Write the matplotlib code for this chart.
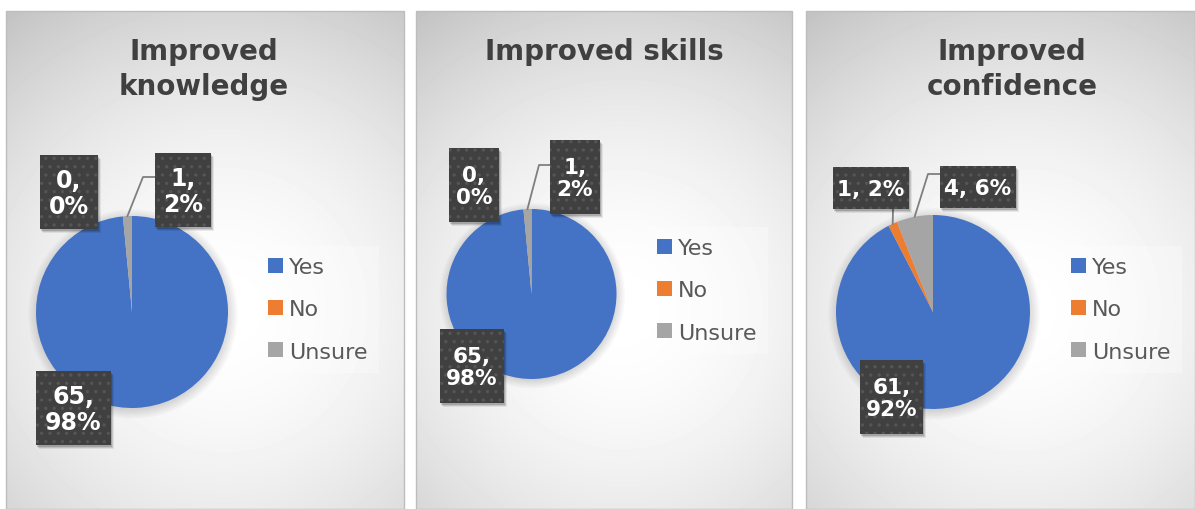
import numpy as np
import matplotlib
matplotlib.use("Agg")
import matplotlib.pyplot as plt
from matplotlib.patches import Rectangle, Circle
from matplotlib.lines import Line2D

plt.rcParams['font.family'] = ['DejaVu Sans']
plt.rcParams['hatch.color'] = '#555555'
plt.rcParams['hatch.linewidth'] = 1.2

# survey answers
categories = ["Yes", "No", "Unsure"]
titles = ["Improved\nknowledge", "Improved skills", "Improved\nconfidence"]
knowledge = [65, 0, 1]
skills = [65, 0, 1]
confidence = [61, 1, 4]
series = [knowledge, skills, confidence]

colors = ["#4472C4", "#ED7D31", "#A5A5A5"]

W, H = 1195, 510

# panel frames, pie centre/radius, title x, legend box (all in pixels)
panels = [(6, 12, 404, 510), (416, 12, 792, 510), (806, 12, 1195, 510)]
pies = [(132, 313, 96), (531.5, 295, 85), (933, 313, 97)]
title_x = [204, 604, 1012]
legend_box = [(257, 247), (646, 228), (1060, 247)]

# label boxes: x0, y0, x1, y1, separator, elbow of leader line (or None)
label_boxes = [
    [(36, 372, 111, 446, ",\n", None), (40, 156, 98, 230, ",\n", None),
     (155, 154, 211, 228, ",\n", ((155, 178), (143, 178)))],
    [(440, 330, 504, 404, ",\n", None), (449, 149, 499, 223, ",\n", None),
     (550, 141, 600, 215, ",\n", ((550, 166), (539, 166)))],
    [(860, 361, 923, 435, ",\n", None),
     (833, 168, 909, 210, ", ", ((893, 210), (893, 210))),
     (940, 167, 1016, 209, ", ", ((940, 175), (928, 175)))],
]
label_size = [17, 15.5, 15.5]

fig = plt.figure(figsize=(W / 100, H / 100), dpi=100)

# background layer with radial gradients
bg = fig.add_axes([0, 0, 1, 1], zorder=0)
bg.axis('off')
for (x0, y0, x1, y1) in panels:
    xs = np.arange(x0, x1) + 0.5
    ys = np.arange(y0, y1) + 0.5
    gx, gy = np.meshgrid(xs, ys)
    cx = x0 + 0.55 * (x1 - x0)
    cy = y0 + 0.6 * (y1 - y0)
    d = np.hypot(gx - cx, gy - cy)
    d = d / d.max()
    v = 1 - 0.24 * np.clip(d, 0, 1) ** 1.8
    bg.imshow(v, cmap='gray', vmin=0, vmax=1, extent=(x0, x1, y1, y0),
              interpolation='bilinear', aspect='auto')
    bg.add_patch(Rectangle((x0, y0), x1 - x0, y1 - y0, fill=False,
                           edgecolor='#bdbdbd', lw=1))
bg.set_xlim(0, W)
bg.set_ylim(H, 0)

# overlay for titles, labels, leader lines
ov = fig.add_axes([0, 0, 1, 1], zorder=3)
ov.set_xlim(0, W)
ov.set_ylim(H, 0)
ov.axis('off')
ov.patch.set_alpha(0)

pad = 1.15
for i, vals in enumerate(series):
    cx, cy, r = pies[i]
    ax = fig.add_axes([(cx - r * pad) / W, 1 - (cy + r * pad) / H,
                       2 * r * pad / W, 2 * r * pad / H], zorder=1)
    ax.patch.set_alpha(0)
    # soft shadow behind the pie
    for k in range(6):
        ax.add_patch(Circle((0.01, -0.02), 1 + 0.018 * k, color='black',
                            alpha=0.025, lw=0, zorder=0))
    wedges, _ = ax.pie(vals, colors=colors, startangle=90, counterclock=False,
                       radius=1, wedgeprops=dict(linewidth=0))
    for w in wedges:
        w.set_zorder(2)
    ax.set_xlim(-pad, pad)
    ax.set_ylim(-pad, pad)
    ax.set_aspect('equal')
    ax.axis('off')

    # title
    lines = titles[i].split("\n")
    for j, line in enumerate(lines):
        ov.text(title_x[i], 52 + 35 * j, line, ha='center', va='center',
                fontsize=20, fontweight='bold', color='#404040')

    # legend
    lx, ly = legend_box[i]
    handles = [Rectangle((0, 0), 1, 1, facecolor=c, lw=0) for c in colors]
    fig.legend(handles, categories, loc='upper left',
               bbox_to_anchor=(lx / W, 1 - ly / H), frameon=True,
               fontsize=16, labelcolor='#595959', handlelength=0.65,
               handleheight=0.65, handletextpad=0.3, labelspacing=1.0,
               borderpad=0.5, borderaxespad=0, facecolor='white',
               framealpha=0.3, edgecolor='none', fancybox=False)

    # data labels
    total = sum(vals)
    cum = 0
    for j, v in enumerate(vals):
        x0, y0, x1, y1, sep, elbow = label_boxes[i][j]
        mid = 90 - 360 * (cum + v / 2) / total
        cum += v
        if elbow is not None:
            px = cx + r * np.cos(np.radians(mid))
            py = cy - r * np.sin(np.radians(mid))
            ov.add_line(Line2D([elbow[0][0], elbow[1][0], px],
                               [elbow[0][1], elbow[1][1], py],
                               color='#7f7f7f', lw=1.3, zorder=1))
        for k, a in enumerate([0.16, 0.11, 0.07]):
            ov.add_patch(Rectangle((x0 + 1 + k, y0 + 2 + k), x1 - x0, y1 - y0,
                                   facecolor='black', alpha=a, lw=0, zorder=2))
        ov.add_patch(Rectangle((x0, y0), x1 - x0, y1 - y0, facecolor='#404040',
                               edgecolor='#555555', hatch='..', lw=0, zorder=3))
        pct = round(100 * v / total)
        ov.text((x0 + x1) / 2, (y0 + y1) / 2 + 1, f"{v}{sep}{pct}%",
                ha='center', va='center', color='white', fontweight='bold',
                fontsize=label_size[i], linespacing=1.15, zorder=4)

fig.savefig("out.png", dpi=100)
